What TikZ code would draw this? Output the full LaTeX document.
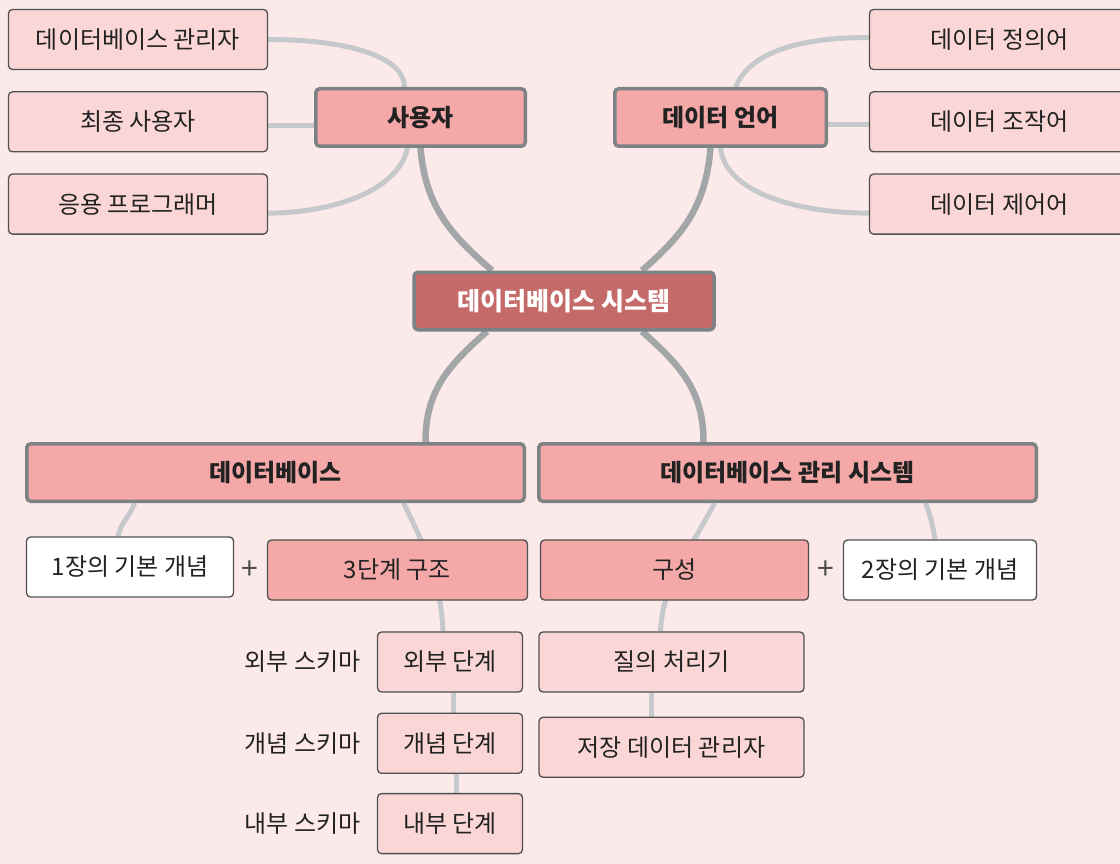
\documentclass[tikz,border=0pt]{standalone}
\usepackage{fontspec}
\setmainfont{Noto Sans CJK KR}
\usetikzlibrary{positioning, backgrounds}

\definecolor{bgpink}{HTML}{FCE9E9}
\definecolor{leaffill}{HTML}{FAD6D6}
\definecolor{topicfill}{HTML}{F4A8A7}
\definecolor{rootfill}{HTML}{C46B69}
\definecolor{topicline}{HTML}{7D8285}
\definecolor{leafline}{HTML}{505050}
\definecolor{textdark}{HTML}{222222}
\definecolor{branchgray}{HTML}{C6C9CB}
\definecolor{trunkgray}{HTML}{A2A6A9}

\begin{document}
\begin{tikzpicture}[
  x=1pt, y=-1pt,
  font=\fontsize{24}{28}\selectfont,
  node distance=21pt and 16pt,
  leaf/.style={rectangle, draw=leafline, line width=1.3pt, rounded corners=4pt, fill=leaffill, minimum height=60pt, inner sep=0pt, text=textdark},
  plainleaf/.style={leaf, fill=white},
  subtopic/.style={leaf, fill=topicfill},
  topic/.style={rectangle, draw=topicline, line width=3.5pt, rounded corners=4pt, fill=topicfill, minimum height=57.5pt, inner sep=0pt, text=textdark, font=\fontsize{24}{28}\selectfont\bfseries},
  root/.style={topic, fill=rootfill, text=white, font=\fontsize{25}{28}\selectfont\bfseries},
  schema/.style={inner sep=0pt, text=textdark},
  plus/.style={inner sep=0pt, text=textdark!80, font=\fontsize{30}{30}\selectfont},
  branch/.style={draw=branchgray, line width=5pt},
  trunk/.style={draw=trunkgray, line width=6.5pt}
]
\useasboundingbox (0,0) rectangle (1120,864);

% main topics
\node[root, minimum width=300pt] (sys) at (564,301) {데이터베이스 시스템};
\node[topic, minimum width=209.5pt] (user) at (420.5,117.5) {사용자};
\node[topic, minimum width=211.5pt] (lang) at (720.5,117.5) {데이터 언어};
\node[topic, minimum width=497.5pt] (db) at (275.5,472.5) {데이터베이스};
\node[topic, minimum width=497.5pt] (dbms) at (787.5,472.5) {데이터베이스 관리 시스템};

% users
\node[leaf, minimum width=259pt] (dba) at (138,39.5) {데이터베이스 관리자};
\node[leaf, minimum width=259pt, below=of dba] (enduser) {최종 사용자};
\node[leaf, minimum width=259pt, below=of enduser] (appprog) {응용 프로그래머};

% languages
\node[leaf, minimum width=260pt] (ddl) at (999.5,39.5) {데이터 정의어};
\node[leaf, minimum width=260pt, below=of ddl] (dml) {데이터 조작어};
\node[leaf, minimum width=260pt, below=of dml] (dcl) {데이터 제어어};

% database side
\node[plainleaf, minimum width=207pt] (concept1) at (130,567) {1장의 기본 개념};
\node[subtopic, minimum width=260pt] (arch) at (397.5,570) {3단계 구조};
\node[plus] (plusA) at (250,570) {+};
\node[leaf, minimum width=145pt] (ext) at (450,662) {외부 단계};
\node[leaf, minimum width=145pt, below=20pt of ext] (con) {개념 단계};
\node[leaf, minimum width=145pt, below=19pt of con] (int) {내부 단계};
\node[schema, left=of ext] (extlbl) {외부 스키마};
\node[schema, left=of con] (conlbl) {개념 스키마};
\node[schema, left=of int] (intlbl) {내부 스키마};

% dbms side
\node[subtopic, minimum width=268pt] (comp) at (674.5,570) {구성};
\node[plus] (plusB) at (826,570) {+};
\node[plainleaf, minimum width=193pt] (concept2) at (940,570) {2장의 기본 개념};
\node[leaf, minimum width=265pt] (qp) at (671.5,662) {질의 처리기};
\node[leaf, minimum width=265pt, below=24pt of qp] (sdm) {저장 데이터 관리자};

\begin{pgfonlayer}{background}
\fill[bgpink] (0,0) rectangle (1120,864);
\draw[trunk] (user.south) .. controls +(5,60) and +(-40,-35) .. ([xshift=-72pt]sys.north);
\draw[trunk] ([xshift=-10pt]lang.south) .. controls +(-5,60) and +(40,-35) .. ([xshift=78pt]sys.north);
\draw[trunk] ([xshift=-77pt]sys.south) .. controls +(-40,35) and +(0,-50) .. ([xshift=150pt]db.north);
\draw[trunk] ([xshift=78pt]sys.south) .. controls +(40,35) and +(0,-50) .. ([xshift=-84pt]dbms.north);

\draw[branch] (dba.east) .. controls +(80,0) and +(0,-30) .. ([xshift=-16pt]user.north);
\draw[branch] ([yshift=-4pt]enduser.east) -- ([yshift=-4pt]enduser.east -| user.west);
\draw[branch] ([xshift=-13pt]user.south) .. controls +(-10,45) and +(60,0) .. ([yshift=-9pt]appprog.east);
\draw[branch] ([xshift=15pt]lang.north) .. controls +(15,-35) and +(-70,0) .. ([yshift=2pt]ddl.west);
\draw[branch] ([yshift=-7pt]lang.east) -- ([yshift=-7pt]lang.east -| dml.west);
\draw[branch] (lang.south) .. controls +(5,45) and +(-70,0) .. ([yshift=-9pt]dcl.west);

\draw[branch] ([xshift=-141pt]db.south) .. controls +(-5,15) and +(3,-15) .. ([xshift=-12pt]concept1.north);
\draw[branch] ([xshift=128pt]db.south) .. controls +(20,40) and +(-2,-50) .. ([xshift=-7pt]ext.north);
\draw[branch] ([xshift=3pt]ext.south) -- ([xshift=3pt]con.north);
\draw[branch] ([xshift=6pt]con.south) -- ([xshift=6pt]int.north);
\draw[branch] ([xshift=-73pt]dbms.south) .. controls +(-20,40) and +(2,-50) .. ([xshift=-11pt]qp.north);
\draw[branch] ([xshift=-20pt]qp.south) -- ([xshift=-20pt]sdm.north);
\draw[branch] ([xshift=138pt]dbms.south) .. controls +(5,12) and +(-2,-12) .. ([xshift=-5pt]concept2.north);
\end{pgfonlayer}
\end{tikzpicture}
\end{document}
